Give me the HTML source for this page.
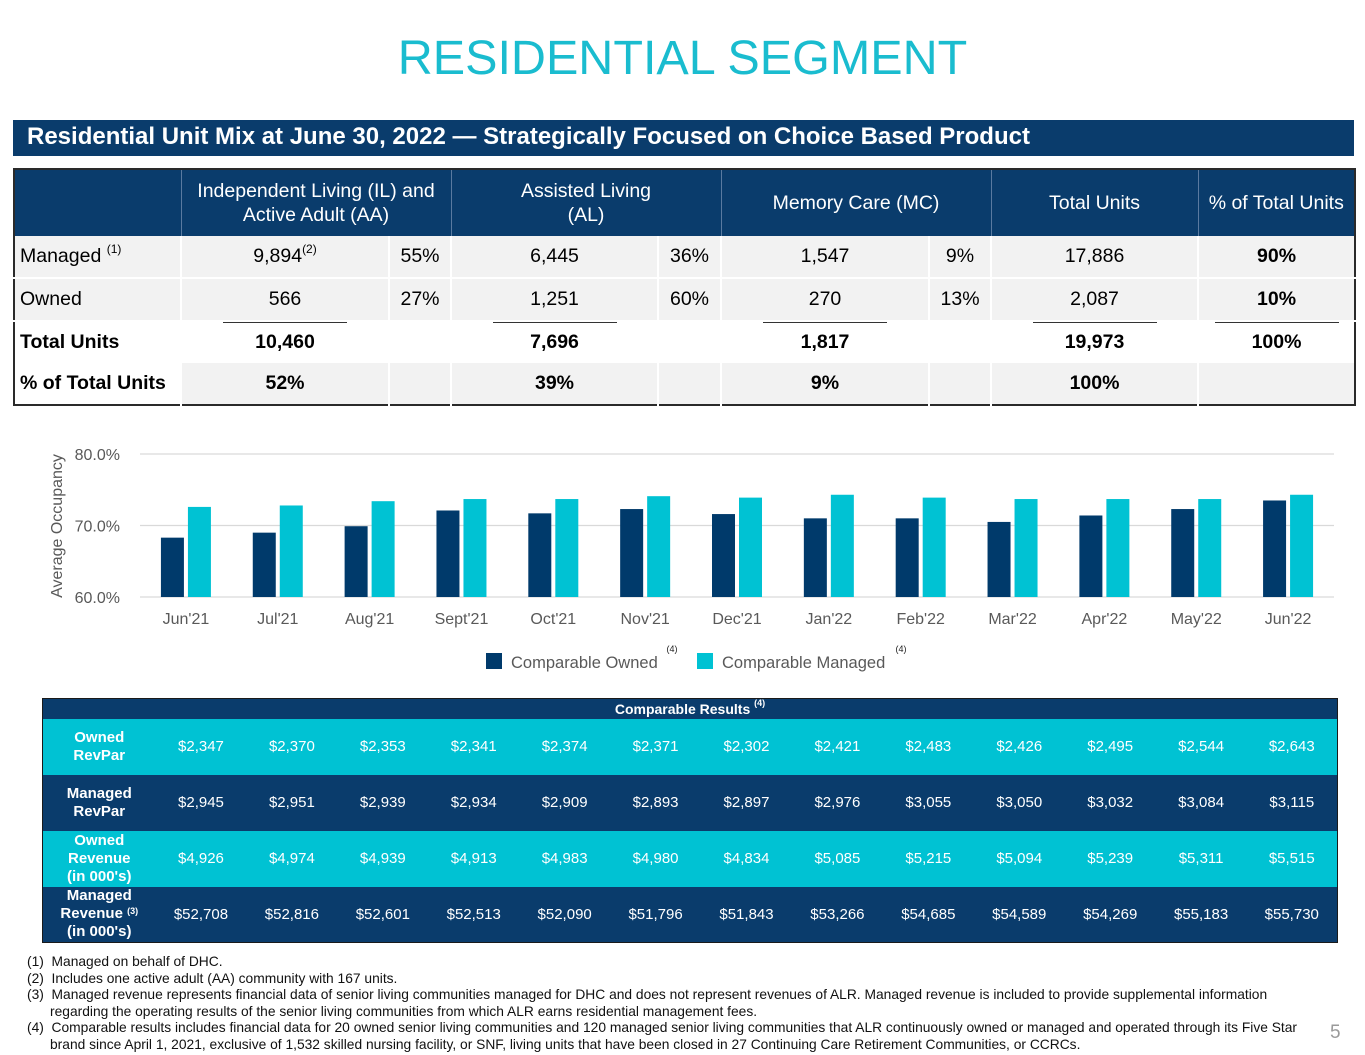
<!DOCTYPE html>
<html><head><meta charset="utf-8">
<style>
*{margin:0;padding:0;box-sizing:border-box}
body{width:1365px;height:1055px;background:#fff;position:relative;overflow:hidden;font-family:"Liberation Sans",Arial,sans-serif}
.abs{position:absolute}
#title{left:0;width:1365px;top:30px;text-align:center;font-size:48.5px;color:#1ABCCF}
#banner{left:13px;top:120px;width:1341px;height:36px;background:#0A3C6C;color:#fff;font-weight:bold;font-size:24px;line-height:33px;padding-left:14px;white-space:nowrap}
#mix{left:13px;top:168px;width:1341px;height:238px;border:2px solid #2a2a2a;border-collapse:collapse;table-layout:fixed;font-size:19.5px}
#mix td{padding:0;text-align:center;vertical-align:middle;border-left:2px solid #fff;position:relative}
#mix tr.h td{background:#0A3C6C;color:#fff;height:67px;line-height:24px;border-left:1px solid #5a7aa0}
#mix tr.g td{background:#f2f2f2;height:42px;border-bottom:2px solid #fff}
#mix tr.w td{background:#fff;height:42px;font-weight:bold}
#mix tr.p td{background:#f2f2f2;height:42px;font-weight:bold}
#mix td.l{text-align:left;padding-left:5px;border-left:none}
sup{font-size:12px;vertical-align:top;position:relative;top:-3px}
.ul{position:absolute;top:0;left:50%;width:124px;margin-left:-62px;border-top:1.5px solid #333}
#comp{left:42px;top:698px;width:1296px;border:1.5px solid #1a1a1a;border-collapse:collapse;table-layout:fixed;font-size:15px;color:#fff}
#comp td{text-align:center;vertical-align:middle;padding:0}
#comp tr.hd td{background:#0A3C6C;height:20px;font-weight:bold;font-size:14px}
#comp tr.t td{background:#00C2D3;height:56px}
#comp tr.n td{background:#0A3C6C;height:56px}
#comp td.lb{font-weight:bold;font-size:15px;line-height:18px}
#notes{left:27px;top:954px;font-size:13.8px;line-height:16.6px;color:#111;white-space:nowrap}
#notes div{padding-left:23px;text-indent:-23px}
</style></head><body>
<div id="title" class="abs">RESIDENTIAL SEGMENT</div>
<div id="banner" class="abs">Residential Unit Mix at June 30, 2022 — Strategically Focused on Choice Based Product</div>

<table id="mix" class="abs">
<colgroup><col style="width:167px"><col style="width:208px"><col style="width:62px"><col style="width:207px"><col style="width:63px"><col style="width:208px"><col style="width:62px"><col style="width:207px"><col style="width:157px"></colgroup>
<tr class="h"><td style="border-left:none"></td><td colspan="2">Independent Living (IL) and<br>Active Adult (AA)</td><td colspan="2">Assisted Living<br>(AL)</td><td colspan="2">Memory Care (MC)</td><td>Total Units</td><td>% of Total Units</td></tr>
<tr class="g"><td class="l">Managed <sup>(1)</sup></td><td>9,894<sup>(2)</sup></td><td>55%</td><td>6,445</td><td>36%</td><td>1,547</td><td>9%</td><td>17,886</td><td style="font-weight:bold">90%</td></tr>
<tr class="g"><td class="l">Owned</td><td>566</td><td>27%</td><td>1,251</td><td>60%</td><td>270</td><td>13%</td><td>2,087</td><td style="font-weight:bold">10%</td></tr>
<tr class="w"><td class="l">Total Units</td><td><span class="ul"></span>10,460</td><td></td><td><span class="ul"></span>7,696</td><td></td><td><span class="ul"></span>1,817</td><td></td><td><span class="ul"></span>19,973</td><td><span class="ul"></span>100%</td></tr>
<tr class="p"><td class="l" style="background:#fff">% of Total Units</td><td>52%</td><td></td><td>39%</td><td></td><td>9%</td><td></td><td>100%</td><td></td></tr>
</table>

<svg class="abs" style="left:0;top:420px" width="1365" height="260" id="chart"></svg>

<table id="comp" class="abs"></table>

<div id="notes" class="abs">
<div>(1)&nbsp; Managed on behalf of DHC.</div>
<div>(2)&nbsp; Includes one active adult (AA) community with 167 units.</div>
<div>(3)&nbsp; Managed revenue represents financial data of senior living communities managed for DHC and does not represent revenues of ALR. Managed revenue is included to provide supplemental information<br>regarding the operating results of the senior living communities from which ALR earns residential management fees.</div>
<div>(4)&nbsp; Comparable results includes financial data for 20 owned senior living communities and 120 managed senior living communities that ALR continuously owned or managed and operated through its Five Star<br>brand since April 1, 2021, exclusive of 1,532 skilled nursing facility, or SNF, living units that have been closed in 27 Continuing Care Retirement Communities, or CCRCs.</div>
</div>
<div class="abs" style="left:1330px;top:1022px;font-size:19px;color:#9a9a9a">5</div>

<script>
const categories=["Jun'21","Jul'21","Aug'21","Sept'21","Oct'21","Nov'21","Dec'21","Jan'22","Feb'22","Mar'22","Apr'22","May'22","Jun'22"];
const ownedOcc=[68.3,69.0,69.9,72.1,71.7,72.3,71.6,71.0,71.0,70.5,71.4,72.3,73.5];
const managedOcc=[72.6,72.8,73.4,73.7,73.7,74.1,73.9,74.3,73.9,73.7,73.7,73.7,74.3];
const yTicks=[60,70,80];
const yTickLabels=["60.0%","70.0%","80.0%"];
const ownedRevPar=["$2,347","$2,370","$2,353","$2,341","$2,374","$2,371","$2,302","$2,421","$2,483","$2,426","$2,495","$2,544","$2,643"];
const managedRevPar=["$2,945","$2,951","$2,939","$2,934","$2,909","$2,893","$2,897","$2,976","$3,055","$3,050","$3,032","$3,084","$3,115"];
const ownedRevenue=["$4,926","$4,974","$4,939","$4,913","$4,983","$4,980","$4,834","$5,085","$5,215","$5,094","$5,239","$5,311","$5,515"];
const managedRevenue=["$52,708","$52,816","$52,601","$52,513","$52,090","$51,796","$51,843","$53,266","$54,685","$54,589","$54,269","$55,183","$55,730"];

const NS="http://www.w3.org/2000/svg";
const svg=document.getElementById('chart');
const x0=140,x1=1334,yMin=60,yMax=80,py0=177,py1=34;
const band=(x1-x0)/categories.length;
const xC=i=>x0+band*(i+0.5);
const yS=v=>py0-(v-yMin)/(yMax-yMin)*(py0-py1);
function mk(t,a){const e=document.createElementNS(NS,t);for(const k in a)e.setAttribute(k,a[k]);svg.appendChild(e);return e;}
yTicks.forEach((t,i)=>{
  const g=mk('line',{x1:x0,x2:x1,y1:yS(t),y2:yS(t),stroke:'#d9d9d9','stroke-width':1.3});
  
  
  const l=mk('text',{x:120,y:yS(t)+6,'text-anchor':'end','font-size':16,fill:'#595959','font-family':'Liberation Sans, sans-serif'});
  l.textContent=yTickLabels[i];
  
  
});
const yt=mk('text',{transform:'translate(62,106) rotate(-90)','text-anchor':'middle','font-size':16,fill:'#595959','font-family':'Liberation Sans, sans-serif'});
yt.textContent='Average Occupancy';


categories.forEach((c,i)=>{
  const bw=23;
  const b1=mk('rect',{x:xC(i)-bw-2,y:yS(ownedOcc[i]),width:bw,height:py0-yS(ownedOcc[i]),fill:'#003A6B'});
  
  
  const b2=mk('rect',{x:xC(i)+2,y:yS(managedOcc[i]),width:bw,height:py0-yS(managedOcc[i]),fill:'#00C2D3'});
  
  
  const t=mk('text',{x:xC(i),y:204,'text-anchor':'middle','font-size':16,fill:'#595959','font-family':'Liberation Sans, sans-serif'});
  t.textContent=c;
  
  
});
const lg=[[486,'#003A6B','Comparable Owned',511,672],[697,'#00C2D3','Comparable Managed',722,901]];
lg.forEach(L=>{
  const r=mk('rect',{x:L[0],y:233,width:16,height:16,fill:L[1]});
  
  
  const t=mk('text',{x:L[3],y:248,'font-size':16.5,fill:'#595959','font-family':'Liberation Sans, sans-serif'});
  t.textContent=L[2];
  
  
  const s=mk('text',{x:L[4],y:232,'font-size':9,fill:'#222','text-anchor':'middle','font-family':'Liberation Sans, sans-serif'});
  s.textContent='(4)';
  
  
});

const tb=document.getElementById('comp');
let html='<colgroup><col style="width:113px">'+categories.map(()=>'<col>').join('')+'</colgroup>';
html+='<tr class="hd"><td colspan="14">Comparable Results <sup style="font-size:9px">(4)</sup></td></tr>';
const rows=[['t','Owned<br>RevPar',ownedRevPar,'owned-revpar-row'],['n','Managed<br>RevPar',managedRevPar,'managed-revpar-row'],['t','Owned<br>Revenue<br>(in 000\'s)',ownedRevenue,'owned-revenue-row'],['n','Managed<br>Revenue <sup style="font-size:9px">(3)</sup><br>(in 000\'s)',managedRevenue,'managed-revenue-row']];
rows.forEach(r=>{html+='<tr class="'+r[0]+'"><td class="lb">'+r[1]+'</td>'+r[2].map(v=>'<td>'+v+'</td>').join('')+'</tr>';});
tb.innerHTML=html;
</script>
</body></html>
